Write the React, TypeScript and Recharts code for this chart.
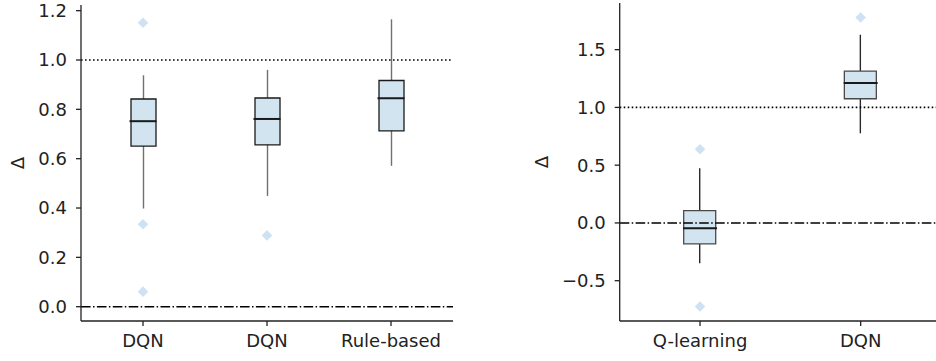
import { Bar, ComposedChart, ReferenceLine, Scatter, XAxis, YAxis } from "recharts";

// left panel
const leftLabels = ["DQN", "DQN", "Rule-based"];
const leftLow = [0.398, 0.449, 0.571];
const leftQ1 = [0.651, 0.656, 0.713];
const leftMedian = [0.752, 0.761, 0.845];
const leftQ3 = [0.842, 0.846, 0.917];
const leftHigh = [0.938, 0.96, 1.165];
const leftOutlierPos = [1, 1, 1, 2];
const leftOutliers = [1.151, 0.334, 0.061, 0.289];
const leftTicks = [0, 0.2, 0.4, 0.6, 0.8, 1.0, 1.2];

// right panel
const rightLabels = ["Q-learning", "DQN"];
const rightLow = [-0.349, 0.776];
const rightQ1 = [-0.182, 1.075];
const rightMedian = [-0.046, 1.211];
const rightQ3 = [0.106, 1.315];
const rightHigh = [0.473, 1.629];
const rightOutlierPos = [1, 1, 2];
const rightOutliers = [0.638, -0.724, 1.779];
const rightTicks = [-0.5, 0, 0.5, 1.0, 1.5];

const FONT = "DejaVu Sans";
const FONT_SIZE = 18;
const AXIS = "#222";
const BOX_FILL = "#d3e4f1";
const OUTLIER = "#cfe2f3";

const fmt = (v: number) => (v < 0 ? "\u2212" + Math.abs(v).toFixed(1) : v.toFixed(1));

type PanelProps = {
  labels: string[];
  low: number[];
  q1: number[];
  median: number[];
  q3: number[];
  high: number[];
  outlierPos: number[];
  outliers: number[];
  ticks: number[];
  domain: [number, number];
  left: number;
  width: number;
  top: number;
  yAxisWidth: number;
  boxWidth: number;
  boxStroke: string;
  whiskerStroke: string;
  titleX: number;
};

const BoxPanel = (p: PanelProps) => {
  const rows = p.labels.map((_, i) => ({
    pos: i + 1,
    whisker: [p.low[i], p.high[i]],
    box: [p.q1[i], p.q3[i]],
    median: p.median[i],
  }));
  const outlierRows = p.outliers.map((v, i) => ({ pos: p.outlierPos[i], value: v }));
  const tickStyle = { fontFamily: FONT, fontSize: FONT_SIZE, fill: AXIS };

  return (
    <div style={{ position: "absolute", left: p.left, top: 0 }}>
      <ComposedChart
        width={p.width}
        height={361}
        data={rows}
        margin={{ top: p.top, right: 0, bottom: 0, left: 0 }}
      >
        <XAxis
          xAxisId="main"
          dataKey="pos"
          type="category"
          allowDuplicatedCategory={false}
          height={40}
          tickFormatter={(v) => p.labels[Number(v) - 1]}
          tick={tickStyle}
          tickSize={5}
          tickMargin={8}
          axisLine={{ stroke: AXIS, strokeWidth: 1.3 }}
          tickLine={{ stroke: AXIS, strokeWidth: 1.3 }}
        />
        <XAxis xAxisId="w" dataKey="pos" type="category" allowDuplicatedCategory={false} hide />
        <YAxis
          type="number"
          domain={p.domain}
          allowDataOverflow
          ticks={p.ticks}
          width={p.yAxisWidth}
          tickFormatter={fmt}
          tick={tickStyle}
          tickSize={5}
          tickMargin={9}
          axisLine={{ stroke: AXIS, strokeWidth: 1.3 }}
          tickLine={{ stroke: AXIS, strokeWidth: 1.3 }}
          label={(lp: any) => {
            const vb = lp.viewBox;
            const cx = vb.x + p.titleX;
            const cy = vb.y + vb.height / 2;
            return (
              <text
                x={cx}
                y={cy}
                transform={`rotate(-90, ${cx}, ${cy})`}
                textAnchor="middle"
                dominantBaseline="central"
                fontFamily={FONT}
                fontSize={FONT_SIZE}
                fill={AXIS}
              >
                Δ
              </text>
            );
          }}
        />
        <ReferenceLine xAxisId="main" y={1} stroke="#000" strokeWidth={1.6} strokeDasharray="1.6 2.4" />
        <ReferenceLine xAxisId="main" y={0} stroke="#000" strokeWidth={1.5} strokeDasharray="9.6 2.4 1.5 2.4" />
        <Bar
          xAxisId="w"
          dataKey="whisker"
          barSize={p.boxWidth}
          isAnimationActive={false}
          shape={(s: any) => {
            const top = Math.min(s.y, s.y + s.height);
            const bottom = Math.max(s.y, s.y + s.height);
            const cx = s.x + s.width / 2;
            return <line x1={cx} x2={cx} y1={top} y2={bottom} stroke={p.whiskerStroke} strokeWidth={1.4} />;
          }}
        />
        <Bar
          xAxisId="main"
          dataKey="box"
          barSize={p.boxWidth}
          fill={BOX_FILL}
          stroke={p.boxStroke}
          strokeWidth={1.3}
          isAnimationActive={false}
        />
        <Scatter
          xAxisId="main"
          dataKey="median"
          isAnimationActive={false}
          shape={(s: any) => (
            <line
              x1={s.cx - p.boxWidth / 2 - 1}
              x2={s.cx + p.boxWidth / 2 + 1}
              y1={s.cy}
              y2={s.cy}
              stroke="#1a1a1a"
              strokeWidth={2}
            />
          )}
        />
        <Scatter
          xAxisId="main"
          data={outlierRows}
          dataKey="value"
          isAnimationActive={false}
          shape={(s: any) => (
            <path
              d={`M${s.cx},${s.cy - 5.3}L${s.cx + 5.3},${s.cy}L${s.cx},${s.cy + 5.3}L${s.cx - 5.3},${s.cy}Z`}
              fill={OUTLIER}
            />
          )}
        />
      </ComposedChart>
    </div>
  );
};

export default function App() {
  return (
    <div
      style={{
        position: "absolute",
        left: 0,
        top: 0,
        width: 936,
        height: 361,
        overflow: "hidden",
        background: "#fff",
        fontFamily: FONT,
      }}
    >
      <BoxPanel
        labels={leftLabels}
        low={leftLow}
        q1={leftQ1}
        median={leftMedian}
        q3={leftQ3}
        high={leftHigh}
        outlierPos={leftOutlierPos}
        outliers={leftOutliers}
        ticks={leftTicks}
        domain={[-0.058, 1.223]}
        left={0}
        width={453}
        top={5}
        yAxisWidth={81}
        boxWidth={25}
        boxStroke="#1a1a1a"
        whiskerStroke="#707070"
        titleX={17.5}
      />
      <BoxPanel
        labels={rightLabels}
        low={rightLow}
        q1={rightQ1}
        median={rightMedian}
        q3={rightQ3}
        high={rightHigh}
        outlierPos={rightOutlierPos}
        outliers={rightOutliers}
        ticks={rightTicks}
        domain={[-0.849, 1.904]}
        left={480}
        width={461}
        top={3}
        yAxisWidth={139.7}
        boxWidth={32}
        boxStroke="#4a4a4a"
        whiskerStroke="#2a2a2a"
        titleX={61.5}
      />
    </div>
  );
}
